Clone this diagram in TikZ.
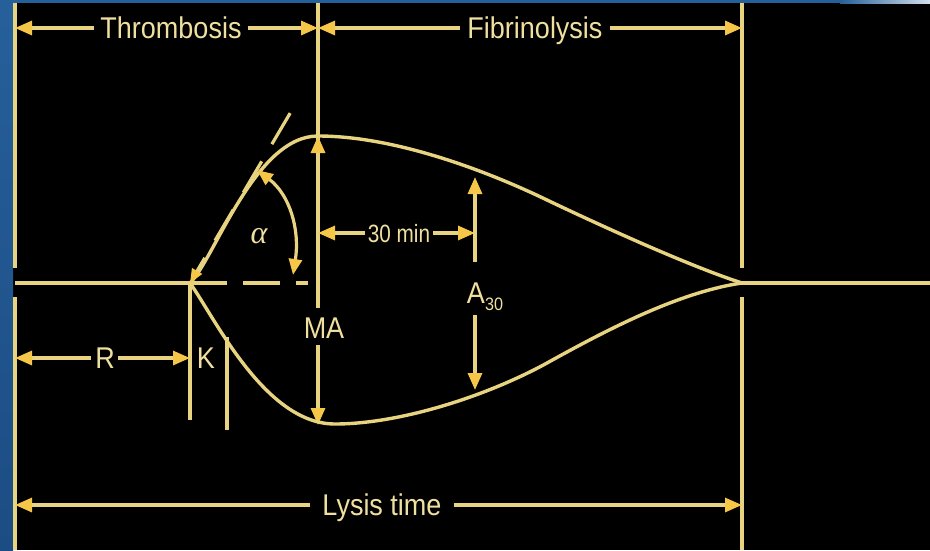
\documentclass[tikz,border=0pt]{standalone}
\usepackage{fontspec}
\setmainfont{Liberation Sans}
\newfontfamily\grkfont{Liberation Serif}
\usetikzlibrary{arrows.meta}
\definecolor{bgblue}{RGB}{38,96,154}
\definecolor{bgblue2}{RGB}{28,76,132}
\definecolor{linec}{RGB}{232,212,128}
\definecolor{tipc}{RGB}{246,198,72}
\definecolor{txtc}{RGB}{240,224,160}
\newcommand{\nar}[1]{\scalebox{0.9}[1]{#1}}
\begin{document}
\begin{tikzpicture}[x=1pt,y=-1pt,
  ln/.style={draw=linec,line width=3.2pt},
  arr/.style={ln,-{Triangle[length=17pt,width=14pt,color=tipc,fill=tipc]}},
  darr/.style={ln,{Triangle[length=16pt,width=13pt,color=tipc,fill=tipc]}-{Triangle[length=16pt,width=13pt,color=tipc,fill=tipc]}},
  tarr/.style={ln,{Triangle[length=14pt,width=11pt,color=tipc,fill=tipc]}-},
  lbl/.style={text=txtc,inner sep=0pt,text height=21.5pt,text depth=0pt,font=\fontsize{30}{32}\selectfont},
  slbl/.style={text=txtc,inner sep=0pt,text height=18pt,text depth=0pt,font=\fontsize{25}{27}\selectfont},
  crv/.style={draw=linec,line width=3.4pt,line join=round}]

\useasboundingbox (0,0) rectangle (930,550);
\fill[black] (0,0) rectangle (930,550);
\shade[top color=bgblue, bottom color=bgblue2] (0,0) rectangle (13,550);
\fill[bgblue] (0,0) rectangle (840,3);
\shade[left color=bgblue, right color=white!80!bgblue] (840,0) rectangle (930,3);

% coordinates
\coordinate (LT) at (15,3);  \coordinate (LA) at (15,268);  \coordinate (LB) at (15,297);  \coordinate (LZ) at (15,550);
\coordinate (RT) at (742,3); \coordinate (RA) at (742,268); \coordinate (RB) at (742,297); \coordinate (RZ) at (742,550);
\coordinate (MT) at (318,3); \coordinate (MP) at (318,136); \coordinate (MQ) at (318,308); \coordinate (MR) at (318,345); \coordinate (MB) at (318,425);
\coordinate (B0) at (15,283); \coordinate (O) at (190,283); \coordinate (DE) at (308,283); \coordinate (E) at (742,283); \coordinate (EZ) at (930,283);
\coordinate (K1b) at (190,420); \coordinate (K2a) at (227,337); \coordinate (K2b) at (227,430);
\coordinate (TanE) at (292,110);
\coordinate (AlA) at (257,170); \coordinate (AlB) at (293,275);
\coordinate (A30t) at (475,177); \coordinate (A30u) at (475,262); \coordinate (A30v) at (475,315); \coordinate (A30b) at (475,390);
\coordinate (Top) at (318,136); \coordinate (UpM) at (547,200);
\coordinate (Bot) at (335,424); \coordinate (LoM) at (547,363);

% frame lines
\draw[ln] (LT) -- (LA); \draw[ln] (LB) -- (LZ);
\draw[ln] (RT) -- (RA); \draw[ln] (RB) -- (RZ);
\draw[ln] (MT) -- (MQ);
\draw[arr] (MQ) -- (MP);
\draw[arr] (MR) -- (MB);
\draw[ln] (B0) -- (O);
\draw[ln,dash pattern=on 37pt off 16pt] (O) -- (DE);
\draw[ln] (E) -- (EZ);
\draw[ln] (O) -- (K1b);
\draw[ln] (K2a) -- (K2b);

% curves
\draw[crv] (O) .. controls (215,258) and (255,136) .. (Top)
  .. controls (395,136) and (487,171) .. (UpM)
  .. controls (612,231) and (695,268) .. (E);
\draw[crv] (O) .. controls (215,318) and (265,424) .. (Bot)
  .. controls (400,424) and (487,396) .. (LoM)
  .. controls (610,328) and (680,292) .. (E);

% tangent and angle
\draw[tarr,dash pattern=on 36pt off 20pt,dash phase=20pt] (O) -- (TanE);
\draw[darr] (AlB) .. controls (300,230) and (290,195) .. (AlA);
\node[text=txtc,font=\grkfont\itshape\fontsize{32}{34}\selectfont,inner sep=0pt] (al) at (259,236) {α};

% top labels
\node[lbl] (thr) at (171,28) {\nar{Thrombosis}};
\draw[arr] ([xshift=-6pt]thr.west) -- (thr.west -| LT);
\draw[arr] ([xshift=6pt]thr.east) -- (thr.east -| MT);
\node[lbl] (fib) at (535,28) {\nar{Fibrinolysis}};
\draw[arr] ([xshift=-7pt]fib.west) -- (fib.west -| MT);
\draw[arr] ([xshift=7pt]fib.east) -- (fib.east -| RT);

% lysis
\node[lbl] (lys) at (382,505) {\nar{Lysis time}};
\draw[arr] ([xshift=-12pt]lys.west) -- (lys.west -| LT);
\draw[arr] ([xshift=12pt]lys.east) -- (lys.east -| RT);

% R and K
\node[lbl] (r) at (105,358) {\nar{R}};
\draw[arr] ([xshift=-4pt]r.west) -- (r.west -| LT);
\draw[arr] ([xshift=3pt]r.east) -- (r.east -| O);
\node[lbl] (k) at (206,358) {\nar{K}};

% MA
\node[lbl] (ma) at (324,328) {\nar{MA}};

% 30 min
\node[slbl] (min) at (399,233) {\scalebox{0.83}[1]{30 min}};
\draw[arr] ([xshift=-3pt]min.west) -- (min.west -| MT);
\draw[arr] ([xshift=3pt]min.east) -- (min.east -| A30t);

% A30
\node[lbl] (a30) at (476,293) {\nar{A}\rlap{\raisebox{-7pt}{\fontsize{18}{18}\selectfont\nar{30}}}};
\draw[arr] (A30u) -- (A30t);
\draw[arr] (A30v) -- (A30b);
\end{tikzpicture}
\end{document}
